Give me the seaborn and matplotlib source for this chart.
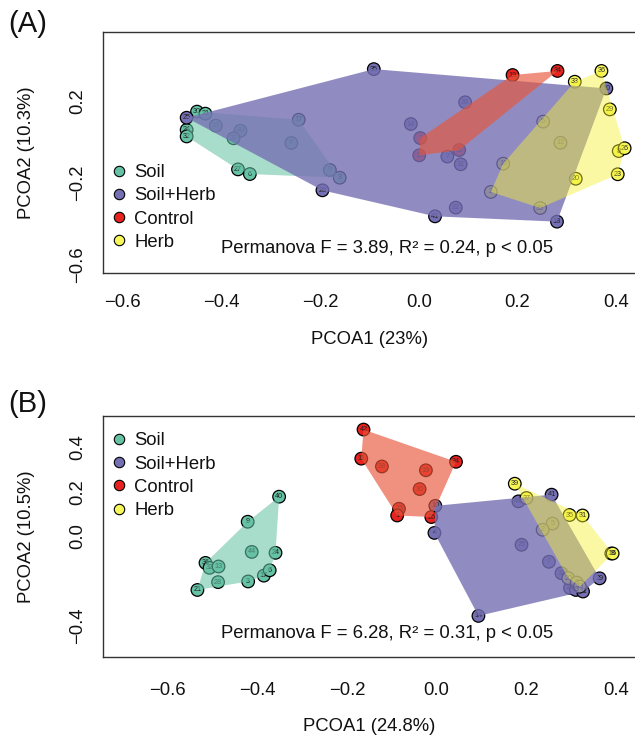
import numpy as np
import pandas as pd
import matplotlib
matplotlib.use("Agg")
import matplotlib.pyplot as plt
import seaborn as sns
from matplotlib.lines import Line2D

# ---------------- data ----------------
groups = ["Soil", "Soil+Herb", "Control", "Herb"]

# Panel A
a_soil_id = ["30", "21", "13", "24", "32", "40", "37", "17", "4", "27", "6", "9", "3"]
a_soil_x = [-0.449, -0.432, -0.411, -0.470, -0.470, -0.361, -0.375, -0.243, -0.258, -0.366, -0.342, -0.180, -0.160]
a_soil_y = [0.151, 0.141, 0.082, 0.061, 0.029, 0.057, 0.020, 0.111, -0.003, -0.133, -0.156, -0.136, -0.174]
a_sh_id = ["25", "28", "35", "38", "14", "7", "31", "10", "22", "41", "18"]
a_sh_x = [-0.470, -0.195, -0.091, 0.094, -0.016, 0.058, 0.085, 0.380, 0.075, 0.033, 0.280]
a_sh_y = [0.121, -0.236, 0.360, 0.197, 0.090, -0.070, -0.108, 0.265, -0.321, -0.364, -0.390]
a_ctl_id = ["1", "15", "11", "19", "34"]
a_ctl_x = [0.003, 0.001, 0.082, 0.190, 0.281]
a_ctl_y = [0.021, -0.064, -0.038, 0.331, 0.351]
a_herb_id = ["33", "36", "29", "5", "12", "16", "8", "26", "20", "23", "2", "39"]
a_herb_x = [0.316, 0.370, 0.387, 0.252, 0.287, 0.171, 0.405, 0.417, 0.318, 0.403, 0.146, 0.246]
a_herb_y = [0.298, 0.351, 0.162, 0.102, -0.002, -0.105, -0.043, -0.029, -0.179, -0.157, -0.244, -0.323]

# Panel B
b_soil_id = ["40", "9", "44", "24", "36", "32", "13", "28", "3", "17", "6", "21"]
b_soil_x = [-0.351, -0.421, -0.412, -0.359, -0.515, -0.506, -0.486, -0.487, -0.420, -0.385, -0.372, -0.533]
b_soil_y = [0.178, 0.066, -0.069, -0.073, -0.118, -0.140, -0.134, -0.204, -0.201, -0.175, -0.151, -0.239]
b_sh_id = ["10", "4", "14", "25", "7", "41", "44", "29", "32", "28", "33", "11"]
b_sh_x = [-0.003, -0.005, 0.093, 0.189, 0.250, 0.256, 0.182, 0.363, 0.278, 0.297, 0.310, 0.326]
b_sh_y = [0.137, 0.016, -0.355, -0.037, -0.113, 0.187, 0.157, -0.187, -0.164, -0.230, -0.239, -0.246]
b_ctl_id = ["42", "11", "38", "19", "34", "30", "15", "1", "26"]
b_ctl_x = [-0.163, -0.168, -0.122, -0.024, 0.043, -0.038, -0.084, -0.088, -0.012]
b_ctl_y = [0.478, 0.348, 0.313, 0.296, 0.334, 0.212, 0.124, 0.094, 0.087]
b_herb_id = ["39", "37", "35", "31", "5", "2", "18", "16", "20", "3", "13"]
b_herb_x = [0.174, 0.200, 0.296, 0.325, 0.258, 0.236, 0.389, 0.392, 0.293, 0.312, 0.319]
b_herb_y = [0.236, 0.172, 0.096, 0.094, 0.058, 0.030, -0.076, -0.076, -0.186, -0.206, -0.224]

x_ticks = [-0.6, -0.4, -0.2, 0.0, 0.2, 0.4]
x_tick_labels = ["\u22120.6", "\u22120.4", "\u22120.2", "0.0", "0.2", "0.4"]
a_y_ticks = [-0.6, -0.4, -0.2, 0.0, 0.2, 0.4]
a_y_tick_labels = ["\u22120.6", "", "\u22120.2", "", "0.2", ""]
b_y_ticks = [-0.4, -0.2, 0.0, 0.2, 0.4]
b_y_tick_labels = ["\u22120.4", "", "0.0", "0.2", "0.4"]

a_stats = "Permanova F = 3.89, R\u00b2 = 0.24, p < 0.05"
b_stats = "Permanova F = 6.28, R\u00b2 = 0.31, p < 0.05"
a_xlab, a_ylab = "PCOA1 (23%)", "PCOA2 (10.3%)"
b_xlab, b_ylab = "PCOA1 (24.8%)", "PCOA2 (10.5%)"

# ---------------- style ----------------
point_col = {"Soil": "#66C2A5", "Soil+Herb": "#7570B3", "Control": "#E8231F", "Herb": "#F7F75A"}
hull_col = {"Soil": "#66C2A5", "Soil+Herb": "#7570B3", "Control": "#E8553A", "Herb": "#F5F032"}
hull_alpha = {"Soil": 0.57, "Soil+Herb": 0.8, "Control": 0.65, "Herb": 0.45}

sns.set_theme(style="white")
plt.rcParams["font.family"] = ["Liberation Sans", "DejaVu Sans"]
FS = 13.3


def build_df(soil, sh, ctl, herb):
    rows = []
    for g, (ids, xs, ys) in zip(groups, [soil, sh, ctl, herb]):
        for i, x, y in zip(ids, xs, ys):
            rows.append({"id": i, "x": x, "y": y, "group": g})
    return pd.DataFrame(rows)


def convex_hull(pts):
    pts = sorted(set(pts))
    if len(pts) < 3:
        return pts
    def cross(o, a, b):
        return (a[0] - o[0]) * (b[1] - o[1]) - (a[1] - o[1]) * (b[0] - o[0])
    lower, upper = [], []
    for p in pts:
        while len(lower) >= 2 and cross(lower[-2], lower[-1], p) <= 0:
            lower.pop()
        lower.append(p)
    for p in reversed(pts):
        while len(upper) >= 2 and cross(upper[-2], upper[-1], p) <= 0:
            upper.pop()
        upper.append(p)
    return lower[:-1] + upper[:-1]


dfA = build_df((a_soil_id, a_soil_x, a_soil_y), (a_sh_id, a_sh_x, a_sh_y),
               (a_ctl_id, a_ctl_x, a_ctl_y), (a_herb_id, a_herb_x, a_herb_y))
dfB = build_df((b_soil_id, b_soil_x, b_soil_y), (b_sh_id, b_sh_x, b_sh_y),
               (b_ctl_id, b_ctl_x, b_ctl_y), (b_herb_id, b_herb_x, b_herb_y))

W, H = 635, 747
fig = plt.figure(figsize=(W / 100, H / 100), dpi=100, facecolor="white")


def px_axes(left, top, right, bottom):
    return fig.add_axes([left / W, 1 - bottom / H, (right - left) / W, (bottom - top) / H])


axA = px_axes(102.7, 31.7, 636.0, 273.3)
axB = px_axes(102.7, 415.7, 636.0, 657.3)


def draw_panel(ax, df, xlim, ylim, yticks, yticklabels, stats, xlab, ylab, leg_top, xpad, xlab_y):
    sns.scatterplot(data=df, x="x", y="y", hue="group", hue_order=groups, palette=point_col,
                    s=82, edgecolor="black", linewidth=0.9, legend=False, ax=ax, zorder=2)
    for _, r in df.iterrows():
        ax.text(r["x"], r["y"], r["id"], fontsize=5.2, ha="center", va="center",
                color="#222222", zorder=3)
    for k, g in enumerate(groups):
        sub = df[df["group"] == g]
        hull = convex_hull(list(zip(sub["x"], sub["y"])))
        hx, hy = zip(*hull)
        ax.fill(hx, hy, color=hull_col[g], alpha=hull_alpha[g], lw=0, zorder=4 + k)
    ax.set_xlim(*xlim)
    ax.set_ylim(*ylim)
    ax.set_xticks(x_ticks)
    ax.set_xticklabels(x_tick_labels)
    ax.set_yticks(yticks)
    ax.set_yticklabels(yticklabels, rotation=90, va="center")
    ax.tick_params(axis="both", direction="out", length=8, width=0.8, color="#333333",
                   labelsize=FS, labelcolor="#111111")
    ax.tick_params(axis="x", pad=xpad)
    ax.tick_params(axis="y", pad=4)
    for sp in ax.spines.values():
        sp.set_visible(True)
        sp.set_color("#333333")
        sp.set_linewidth(1.0)
    ax.set_xlabel(xlab, fontsize=FS, color="#111111", va="center")
    ax.xaxis.set_label_coords(0.5, xlab_y)
    ax.set_ylabel(ylab, fontsize=FS, color="#111111", va="center")
    ax.yaxis.set_label_coords(-0.142, 0.5)
    ax.text(0.2216, leg_top[1], stats, transform=ax.transAxes, fontsize=FS,
            ha="left", va="center", color="#111111", zorder=20)
    handles = [Line2D([], [], marker="o", ls="", markerfacecolor=point_col[g],
                      markeredgecolor="black", markeredgewidth=0.8, markersize=7.5, label=g)
               for g in groups]
    leg = ax.legend(handles=handles, loc="upper left", bbox_to_anchor=(0.0173, leg_top[0]),
                    frameon=False, fontsize=FS, handlelength=0.8, handletextpad=0.4,
                    labelspacing=0.34, borderaxespad=0, borderpad=0)
    leg.set_zorder(20)
    for t in leg.get_texts():
        t.set_color("#111111")


draw_panel(axA, dfA, (-0.64, 0.44), (-0.644, 0.544), a_y_ticks, a_y_tick_labels,
           a_stats, a_xlab, a_ylab, (0.452, 0.1035), 7, -0.276)
draw_panel(axB, dfB, (-0.744, 0.444), (-0.54, 0.54), b_y_ticks, b_y_tick_labels,
           b_stats, b_xlab, b_ylab, (0.931, 0.0993), 9.5, -0.288)

fig.text(28 / W, 1 - 24 / H, "(A)", fontsize=21, ha="center", va="center", color="#111111")
fig.text(28 / W, 1 - 404 / H, "(B)", fontsize=21, ha="center", va="center", color="#111111")

fig.savefig("out.png", dpi=100, facecolor="white")
